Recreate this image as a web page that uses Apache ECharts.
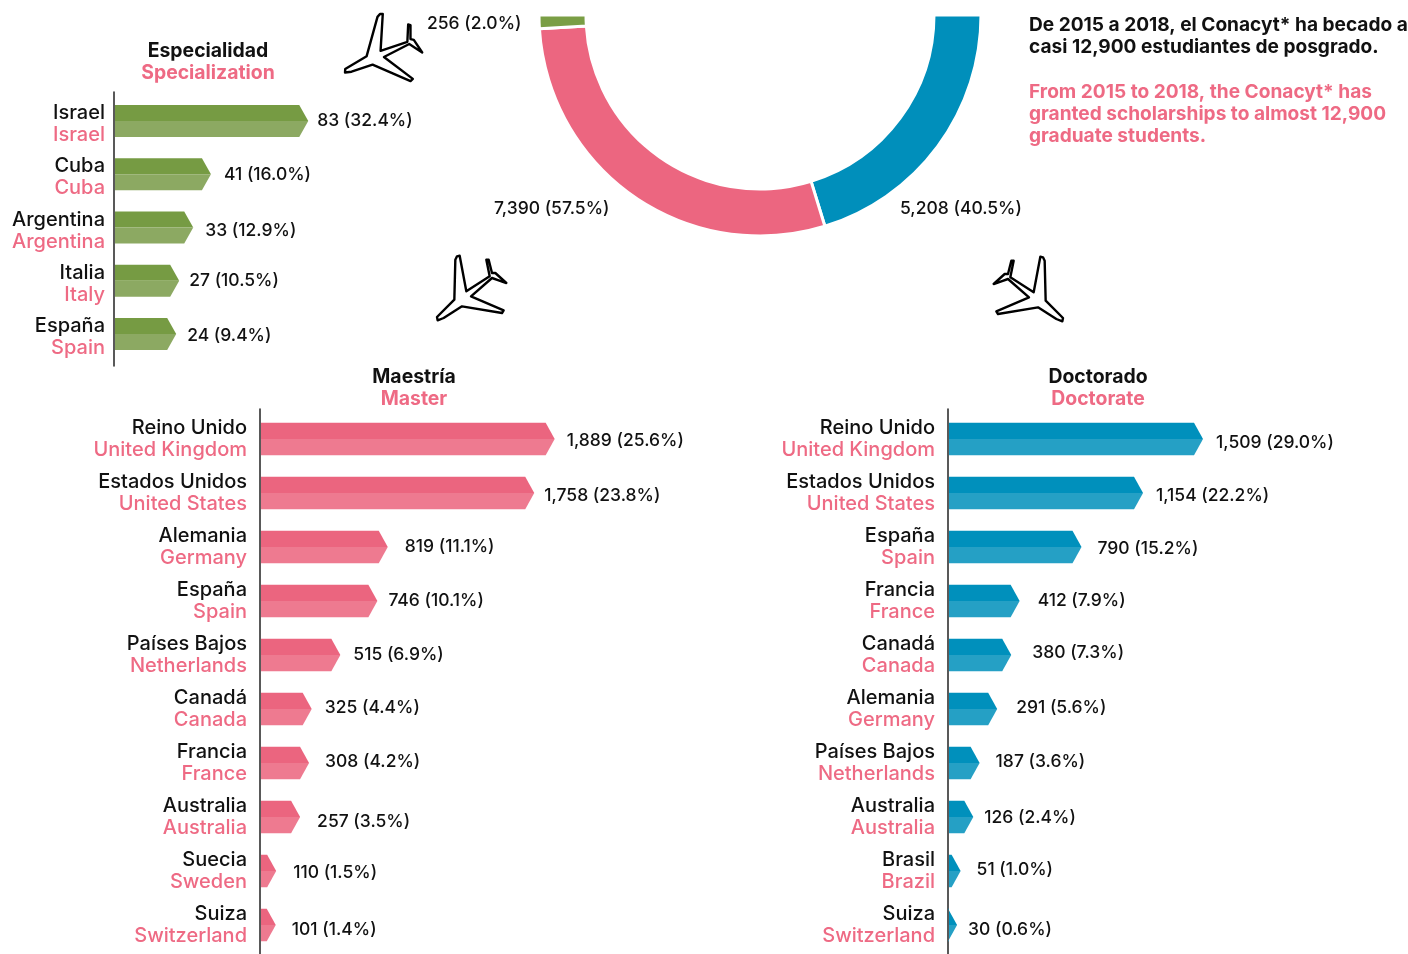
<!DOCTYPE html>
<html><head><meta charset="utf-8">
<style>html,body{margin:0;padding:0;background:#fff}#c{width:1408px;height:954px}</style>
<script src="https://cdn.jsdelivr.net/npm/echarts@6/dist/echarts.min.js"></script>
</head><body><div id="c"></div>
<script>
const FONT = 'Inter';
const INK = '#111111', PINK = '#EE6A84';

// DATA
const totalsLabels = ['Doctorado', 'Maestría', 'Especialidad'];
const totalsValues = [5208, 7390, 256];
const totalsShares = [40.5, 57.5, 2.0];

const specEs = ['Israel', 'Cuba', 'Argentina', 'Italia', 'España'];
const specEn = ['Israel', 'Cuba', 'Argentina', 'Italy', 'Spain'];
const specValues = [83, 41, 33, 27, 24];
const specShares = [32.4, 16.0, 12.9, 10.5, 9.4];

const masterEs = ['Reino Unido', 'Estados Unidos', 'Alemania', 'España', 'Países Bajos', 'Canadá', 'Francia', 'Australia', 'Suecia', 'Suiza'];
const masterEn = ['United Kingdom', 'United States', 'Germany', 'Spain', 'Netherlands', 'Canada', 'France', 'Australia', 'Sweden', 'Switzerland'];
const masterValues = [1889, 1758, 819, 746, 515, 325, 308, 257, 110, 101];
const masterShares = [25.6, 23.8, 11.1, 10.1, 6.9, 4.4, 4.2, 3.5, 1.5, 1.4];

const docEs = ['Reino Unido', 'Estados Unidos', 'España', 'Francia', 'Canadá', 'Alemania', 'Países Bajos', 'Australia', 'Brasil', 'Suiza'];
const docEn = ['United Kingdom', 'United States', 'Spain', 'France', 'Canada', 'Germany', 'Netherlands', 'Australia', 'Brazil', 'Switzerland'];
const docValues = [1509, 1154, 790, 412, 380, 291, 187, 126, 51, 30];
const docShares = [29.0, 22.2, 15.2, 7.9, 7.3, 5.6, 3.6, 2.4, 1.0, 0.6];

// LAYOUT: [label dx from tip, label dy from bar centre, tip extension in px]
const specNudge = [[9,0,0],[13,0,1],[12,3,2],[10,0,2],[11,2,6]];
const masterNudge = [[12,2,0],[10,3,0],[17,0,0],[11,0,1],[13,0,0],[13,-1,1],[16,-1,1],[17,5,0],[17,2,-1],[16,5,0]];
const docNudge = [[13,4,0],[13,3,0],[16,2,0],[18,0,2],[21,-2,-1],[19,-1,0],[16,-1,0],[11,1,4],[16,-1,4],[11,5,4]];
const pieLabelPos = [[900,209],[494,209],[427,24]];

const fmt = n => n.toLocaleString('en-US');
const TIP = 9;

function barSeries(idx, values, shares, nudges, dark, light) {
  return {
    type: 'custom', xAxisIndex: idx, yAxisIndex: idx, silent: true, clip: false,
    data: values.map((v, i) => [v, i]),
    encode: { x: 0, y: 1 },
    renderItem(params, api) {
      const i = api.value(1);
      const zero = api.coord([0, i]);
      const end = api.coord([api.value(0), i]);
      const n = nudges[i];
      const tip = end[0] + n[2];
      const flat = Math.max(zero[0], tip - TIP);
      const h = api.size([0, 1])[1] * 0.3;
      const y = end[1], x0 = zero[0] + 1;
      return { type: 'group', children: [
        { type: 'polygon', shape: { points: [[x0, y - h], [flat, y - h], [tip, y], [x0, y]] }, style: { fill: dark } },
        { type: 'polygon', shape: { points: [[x0, y], [tip, y], [flat, y + h], [x0, y + h]] }, style: { fill: light } },
        { type: 'text', x: tip + n[0], y: y + n[1], style: {
            text: fmt(values[i]) + ' (' + shares[i].toFixed(1) + '%)',
            fill: INK, font: '500 17.5px ' + FONT, textAlign: 'left', textVerticalAlign: 'middle' } }
      ]};
    }
  };
}

function yAxisFor(idx, es, en, min, max, margin, pad) {
  return {
    type: 'value', gridIndex: idx, inverse: true, min, max,
    splitLine: { show: false },
    axisLine: { show: true, onZero: false, lineStyle: { color: '#222', width: 1.5 } },
    axisTick: { show: false },
    axisLabel: {
      show: true, margin, align: 'right', padding: [pad, 0, 0, 0],
      customValues: es.map((_, i) => i),
      formatter: v => '{es|' + es[v] + '}\n{en|' + en[v] + '}',
      rich: {
        es: { fontFamily: FONT, fontSize: 20, fontWeight: 500, color: INK, lineHeight: 22, align: 'right' },
        en: { fontFamily: FONT, fontSize: 20, fontWeight: 500, color: PINK, lineHeight: 22, align: 'right' }
      }
    }
  };
}

function xAxisFor(idx, max) {
  return { type: 'value', gridIndex: idx, min: 0, max, show: false };
}

function headTitle(es, en, cx, top) {
  return {
    text: '{es|' + es + '}\n{en|' + en + '}', left: cx, top, textAlign: 'center', padding: 0,
    textStyle: { rich: {
      es: { fontFamily: FONT, fontSize: 19.4, fontWeight: 700, color: INK, lineHeight: 22 },
      en: { fontFamily: FONT, fontSize: 19.4, fontWeight: 700, color: PINK, lineHeight: 22 }
    } }
  };
}

// Plane outline, drawn as decoration (3x coordinates around its centre)
const planeOutline = [[80,50],[88,48],[108,155],[178,110],[168,60],[175,60],[185,100],[195,100],[228,130],[205,122],[185,115],[122,170],[220,212],[215,220],[95,200],[40,235],[22,242],[20,232],[72,180],[75,60]];
function planeShape(cx, cy, scale, deg, mirror) {
  const t = deg * Math.PI / 180, c = Math.cos(t), s = Math.sin(t);
  const pts = planeOutline.map(p => {
    let x = (p[0] - 125) / 3 * scale, y = (p[1] - 145) / 3 * scale;
    if (mirror) x = -x;
    return [cx + x * c - y * s, cy + x * s + y * c];
  });
  return { type: 'polygon', silent: true, shape: { points: pts },
    style: { fill: '#fff', stroke: '#000', lineWidth: 2.4, lineJoin: 'round' } };
}

const chart = echarts.init(document.getElementById('c'), null, { renderer: 'canvas' });
chart.setOption({
  animation: false,
  backgroundColor: '#fff',
  textStyle: { fontFamily: FONT },
  title: [
    headTitle('Especialidad', 'Specialization', 208, 40),
    headTitle('Maestría', 'Master', 414, 366),
    headTitle('Doctorado', 'Doctorate', 1098, 366),
    { text: 'De 2015 a 2018, el Conacyt* ha becado a\ncasi 12,900 estudiantes de posgrado.', left: 1029, top: 14, padding: 0,
      textStyle: { fontFamily: FONT, fontSize: 19.1, fontWeight: 700, color: INK, lineHeight: 22 } },
    { text: 'From 2015 to 2018, the Conacyt* has\ngranted scholarships to almost 12,900\ngraduate students.', left: 1029, top: 81, padding: 0,
      textStyle: { fontFamily: FONT, fontSize: 19.1, fontWeight: 700, color: PINK, lineHeight: 22 } }
  ],
  grid: [
    { left: 114, top: 92, width: 234, height: 274 },
    { left: 260, top: 409, width: 312, height: 545 },
    { left: 948, top: 409, width: 270.4, height: 545 }
  ],
  xAxis: [xAxisFor(0, 100), xAxisFor(1, 2000), xAxisFor(2, 1600)],
  yAxis: [
    yAxisFor(0, specEs, specEn, -0.544, 4.6, 9, 6),
    yAxisFor(1, masterEs, masterEn, -0.556, 9.537, 13, 0),
    yAxisFor(2, docEs, docEn, -0.556, 9.537, 13, 0)
  ],
  series: [
    barSeries(0, specValues, specShares, specNudge, '#769B43', '#8CA962'),
    barSeries(1, masterValues, masterShares, masterNudge, '#EB657F', '#EE7A90'),
    barSeries(2, docValues, docShares, docNudge, '#0090BC', '#25A0C5'),
    {
      type: 'pie', center: [760, 15], radius: [174, 221], startAngle: 0, endAngle: -180, clockwise: true,
      silent: true,
      itemStyle: { borderColor: '#fff', borderWidth: 3 },
      labelLine: { show: false },
      label: { show: true, fontFamily: FONT, fontSize: 17.5, fontWeight: 500, color: INK,
        formatter: p => fmt(totalsValues[p.dataIndex]) + ' (' + totalsShares[p.dataIndex].toFixed(1) + '%)' },
      labelLayout: p => ({ x: pieLabelPos[p.dataIndex][0], y: pieLabelPos[p.dataIndex][1], align: 'left', verticalAlign: 'middle' }),
      data: totalsLabels.map((n, i) => ({ name: n, value: totalsValues[i],
        itemStyle: { color: ['#008FBB', '#EC6680', '#7A9E45'][i] } }))
    }
  ],
  graphic: [
    planeShape(387, 49, 1.02, 14, false),
    planeShape(472, 288, 1, 0, false),
    planeShape(1028, 289, 1, 0, true)
  ]
});
</script></body></html>
